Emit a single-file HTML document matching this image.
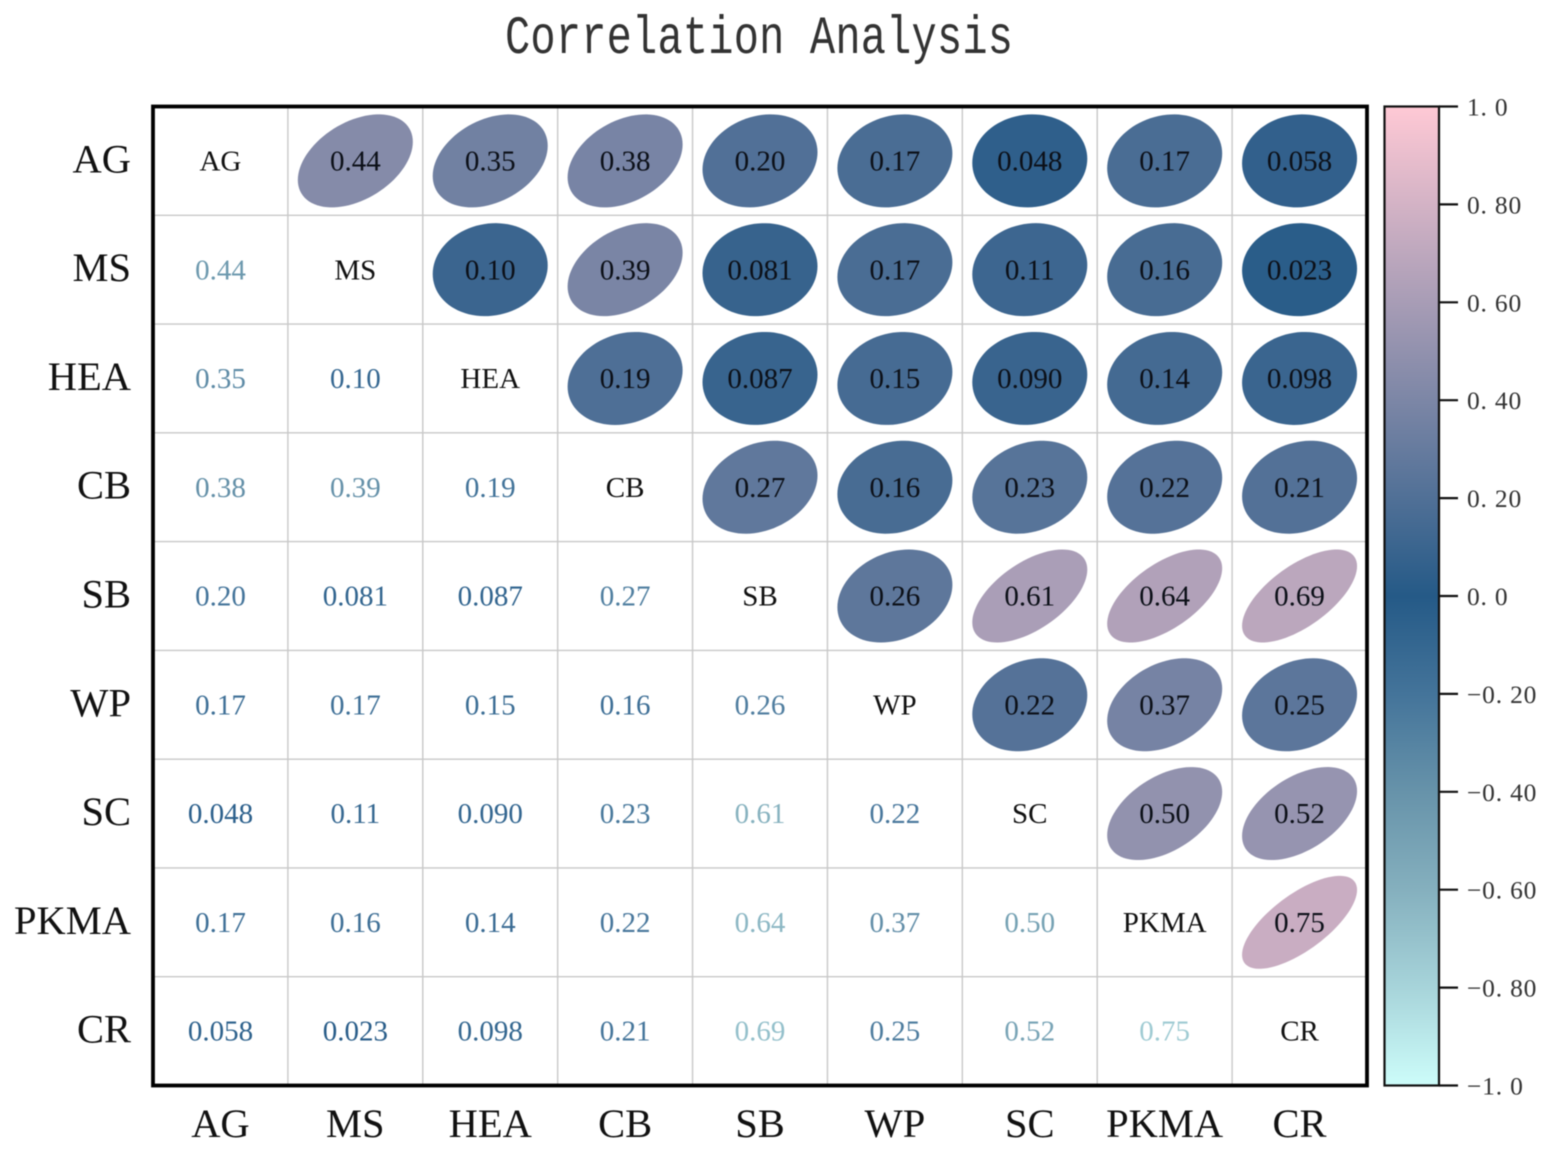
<!DOCTYPE html>
<html>
<head>
<meta charset="utf-8">
<title>Correlation Analysis</title>
<style>
html,body{margin:0;padding:0;background:#fff;width:1547px;height:1157px;overflow:hidden}
svg{display:block;font-family:"Liberation Serif",serif;filter:blur(0.45px)}
</style>
</head>
<body>
<svg id="chart" xmlns="http://www.w3.org/2000/svg" width="1547" height="1157" viewBox="0 0 1547 1157">
  <defs>
    <linearGradient id="cbar-gradient" x1="0" y1="1" x2="0" y2="0"></linearGradient>
  </defs>
  <rect x="0" y="0" width="1547" height="1157" fill="#fff"/>
  <text transform="translate(759 53) scale(1 1.27)" x="0" y="0" text-anchor="middle" textLength="508" lengthAdjust="spacing" style="font-family:'Liberation Mono',monospace;font-size:42px;fill:#333">Correlation Analysis</text>
  <g id="grid"></g>
  <g id="marks"></g>
  <rect x="153" y="106.5" width="1214" height="979" fill="none" stroke="#000" stroke-width="3.8"/>
  <g id="axis-labels"></g>
  <g id="colorbar">
    <rect x="1384.5" y="106.5" width="54.5" height="979" fill="url(#cbar-gradient)" stroke="#111" stroke-width="2.2"/>
  </g>
</svg>
<script>
const labels = ['AG','MS','HEA','CB','SB','WP','SC','PKMA','CR'];
const rowAG   = [1,0.44,0.35,0.38,0.20,0.17,0.048,0.17,0.058];
const rowMS   = [0.44,1,0.10,0.39,0.081,0.17,0.11,0.16,0.023];
const rowHEA  = [0.35,0.10,1,0.19,0.087,0.15,0.090,0.14,0.098];
const rowCB   = [0.38,0.39,0.19,1,0.27,0.16,0.23,0.22,0.21];
const rowSB   = [0.20,0.081,0.087,0.27,1,0.26,0.61,0.64,0.69];
const rowWP   = [0.17,0.17,0.15,0.16,0.26,1,0.22,0.37,0.25];
const rowSC   = [0.048,0.11,0.090,0.23,0.61,0.22,1,0.50,0.52];
const rowPKMA = [0.17,0.16,0.14,0.22,0.64,0.37,0.50,1,0.75];
const rowCR   = [0.058,0.023,0.098,0.21,0.69,0.25,0.52,0.75,1];
const matrix = [rowAG,rowMS,rowHEA,rowCB,rowSB,rowWP,rowSC,rowPKMA,rowCR];
const colorbarTicks = [1,0.8,0.6,0.4,0.2,0,-0.2,-0.4,-0.6,-0.8,-1];
const colorbarTickLabels = ['1. 0','0. 80','0. 60','0. 40','0. 20','0. 0','\u22120. 20','\u22120. 40','\u22120. 60','\u22120. 80','\u22121. 0'];
const colorStopValues = [-1,-0.8,-0.6,-0.4,-0.2,0,1];
const colorStopRGB = [[205,253,250],[167,212,218],[133,176,190],[103,147,170],[68,116,154],[37,90,135],[255,201,213]];

const NS = 'http://www.w3.org/2000/svg';
const plotLeft = 153, plotRight = 1367, plotTop = 106.5, plotBottom = 1085.5;
const cbarTop = 106.5, cbarBottom = 1085.5;
const cellW = (plotRight - plotLeft) / labels.length;
const cellH = (plotBottom - plotTop) / labels.length;
const xCenter = i => plotLeft + cellW * (i + 0.5);
const yCenter = i => plotTop + cellH * (i + 0.5);
const yCbar = v => cbarBottom - (v + 1) / 2 * (cbarBottom - cbarTop);

function cmap(v) {
  let i = 0;
  while (i < colorStopValues.length - 2 && v > colorStopValues[i + 1]) i++;
  const t = (v - colorStopValues[i]) / (colorStopValues[i + 1] - colorStopValues[i]);
  const a = colorStopRGB[i], b = colorStopRGB[i + 1];
  return 'rgb(' + a.map((c, k) => Math.round(c + (b[k] - c) * t)).join(',') + ')';
}
function fmt(v) { return v.toPrecision(2); }
function make(tag, attrs, text) {
  const el = document.createElementNS(NS, tag);
  for (const k in attrs) el.setAttribute(k, attrs[k]);
  if (text !== undefined) el.textContent = text;
  return el;
}
function ellipsePath(cx, cy, r) {
  const rx = 57.5, ry = 46.5, d = Math.acos(r * 0.93);
  let p = '';
  for (let s = 0; s < 90; s++) {
    const t = s / 90 * 2 * Math.PI;
    const x = cx + rx * Math.cos(t);
    const y = cy - ry * Math.cos(t - d);
    p += (s ? 'L' : 'M') + x.toFixed(2) + ' ' + y.toFixed(2);
  }
  return p + 'Z';
}

const gradient = document.getElementById('cbar-gradient');
colorStopValues.forEach(v => {
  gradient.appendChild(make('stop', {offset: (v + 1) / 2, 'stop-color': cmap(v)}));
});

const grid = document.getElementById('grid');
for (let i = 1; i < labels.length; i++) {
  const vx = plotLeft + cellW * i, hy = plotTop + cellH * i;
  const vl = make('line', {x1: vx, x2: vx, y1: plotTop, y2: plotBottom, stroke: '#c8c8c8', 'stroke-width': 1.4});
  
  
  grid.appendChild(vl);
  const hl = make('line', {x1: plotLeft, x2: plotRight, y1: hy, y2: hy, stroke: '#c8c8c8', 'stroke-width': 1.4});
  
  
  grid.appendChild(hl);
}

const marks = document.getElementById('marks');
matrix.forEach((row, r) => {
  row.forEach((v, c) => {
    const cx = xCenter(c), cy = yCenter(r);
    if (c > r) {
      const e = make('path', {d: ellipsePath(cx, cy, v), fill: cmap(v)});
      
      
      marks.appendChild(e);
    }
    const fill = c === r ? '#111' : (c > r ? '#0c1018' : cmap(-v));
    const str = c === r ? labels[r] : fmt(v);
    const t = make('text', {x: cx, y: cy + 9.6, 'text-anchor': 'middle', 'font-size': 29, fill: fill}, str);
    
    
    marks.appendChild(t);
  });
});

const axisLabels = document.getElementById('axis-labels');
labels.forEach((name, i) => {
  const yl = make('text', {x: 131, y: yCenter(i) + 11.5, 'text-anchor': 'end', 'font-size': 40.5, fill: '#111'}, name);
  
  
  axisLabels.appendChild(yl);
  const xl = make('text', {x: xCenter(i), y: 1137, 'text-anchor': 'middle', 'font-size': 40.5, fill: '#111'}, name);
  
  
  axisLabels.appendChild(xl);
});

const colorbar = document.getElementById('colorbar');
colorbarTicks.forEach((v, i) => {
  const y = yCbar(v);
  const tick = make('line', {x1: 1439, x2: 1458, y1: y, y2: y, stroke: '#111', 'stroke-width': 2.2});
  
  
  colorbar.appendChild(tick);
  const label = make('text', {x: 1467, y: y + 9, 'font-size': 25.5, 'letter-spacing': 0.8, fill: '#333'}, colorbarTickLabels[i]);
  
  
  colorbar.appendChild(label);
});
</script>
</body>
</html>
